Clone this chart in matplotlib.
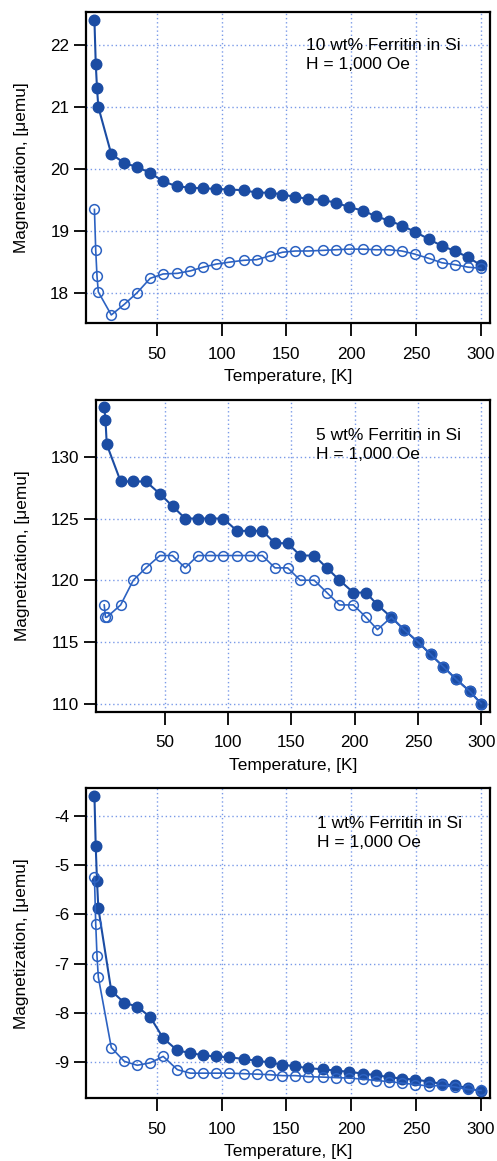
import matplotlib
matplotlib.use("Agg")
import matplotlib.pyplot as plt

plt.rcParams['font.family'] = ['Liberation Sans', 'DejaVu Sans']
plt.rcParams['axes.unicode_minus'] = False

# ---- data ----
T_a = [2, 3, 4, 5, 15, 25, 35, 45, 55, 66, 76, 86, 96, 106, 117, 127, 137, 147, 157,
       167, 178, 188, 198, 209, 219, 229, 239, 249, 260, 270, 280, 290, 300]
m10_fc = [22.40, 21.70, 21.30, 21.00, 20.24, 20.10, 20.03, 19.94, 19.80, 19.72, 19.70,
          19.69, 19.68, 19.67, 19.66, 19.62, 19.62, 19.59, 19.55, 19.52, 19.50, 19.46,
          19.39, 19.33, 19.24, 19.17, 19.09, 18.99, 18.87, 18.76, 18.68, 18.58, 18.45]
m10_zfc = [19.35, 18.69, 18.27, 18.02, 17.65, 17.82, 18.01, 18.24, 18.31, 18.32, 18.36,
           18.42, 18.47, 18.50, 18.53, 18.54, 18.60, 18.66, 18.68, 18.68, 18.69, 18.70,
           18.71, 18.71, 18.70, 18.70, 18.68, 18.63, 18.56, 18.49, 18.46, 18.42, 18.40]

T_b = [2, 3, 4, 15, 25, 35, 46, 56, 66, 76, 86, 96, 107, 117, 127, 137, 147, 157,
       168, 178, 188, 199, 209, 218, 229, 239, 250, 260, 270, 280, 291, 300]
m5_fc = [134, 133, 131, 128, 128, 128, 127, 126, 125, 125, 125, 125, 124, 124, 124,
         123, 123, 122, 122, 121, 120, 119, 119, 118, 117, 116, 115, 114, 113, 112, 111, 110]
m5_zfc = [118, 117, 117, 118, 120, 121, 122, 122, 121, 122, 122, 122, 122, 122, 122,
          121, 121, 120, 120, 119, 118, 118, 117, 116, 117, 116, 115, 114, 113, 112, 111, 110]

T_c = T_a
m1_fc = [-3.59, -4.62, -5.33, -5.87, -7.55, -7.79, -7.87, -8.08, -8.51, -8.76, -8.81,
         -8.86, -8.88, -8.90, -8.93, -8.97, -9.00, -9.05, -9.08, -9.12, -9.14, -9.17,
         -9.19, -9.23, -9.26, -9.30, -9.33, -9.35, -9.39, -9.44, -9.47, -9.52, -9.59]
m1_zfc = [-5.23, -6.19, -6.85, -7.27, -8.70, -8.98, -9.06, -9.01, -8.88, -9.15, -9.22,
          -9.22, -9.22, -9.22, -9.23, -9.24, -9.25, -9.27, -9.27, -9.29, -9.30, -9.31,
          -9.32, -9.34, -9.37, -9.39, -9.42, -9.45, -9.48, -9.47, -9.50, -9.55, -9.57]

labels = ["10 wt% Ferritin in Si\nH = 1,000 Oe",
          "5 wt% Ferritin in Si\nH = 1,000 Oe",
          "1 wt% Ferritin in Si\nH = 1,000 Oe"]
xticks = [50, 100, 150, 200, 250, 300]
yticks_a = [18, 19, 20, 21, 22]
yticks_b = [110, 115, 120, 125, 130]
yticks_c = [-9, -8, -7, -6, -5, -4]

W, H = 497, 1161
fig = plt.figure(figsize=(W / 100, H / 100), dpi=100)

def rect(l, t, r, b):
    return [l / W, 1 - b / H, (r - l) / W, (b - t) / H]

panels = [
    (rect(86, 12, 490, 323), T_a, m10_fc, m10_zfc, yticks_a, (17.52, 22.53), labels[0], (306, 45)),
    (rect(96, 400, 490, 711.7), T_b, m5_fc, m5_zfc, yticks_b, (109.35, 134.6), labels[1], (316, 435)),
    (rect(86, 788.3, 490, 1098.3), T_c, m1_fc, m1_zfc, yticks_c, (-9.73, -3.44), labels[2], (317, 823)),
]

dark = '#1b4ca3'
light = '#2c62c2'
gridc = '#7a9ae8'

for r, T, fc, zfc, yt, ylim, lab, tpos in panels:
    ax = fig.add_axes(r)
    ax.plot(T, fc, '-', color=dark, lw=1.5, marker='o', ms=7.6,
            mfc=dark, mec=dark, zorder=3)
    ax.plot(T, zfc, '-', color=light, lw=1.2, marker='o', ms=7.0,
            mfc='none', mec=light, mew=1.1, zorder=4)
    ax.set_xlim(-4.5, 307)
    ax.set_ylim(*ylim)
    ax.set_xticks(xticks)
    ax.set_yticks(yt)
    ax.grid(True, color=gridc, linestyle=(0, (1, 2)), linewidth=1.0)
    ax.set_axisbelow(True)
    for s in ax.spines.values():
        s.set_linewidth(1.6)
        s.set_color('black')
    ax.tick_params(axis='both', direction='out', length=9, width=1.3,
                   labelsize=12.3, top=False, right=False)
    ax.tick_params(axis='x', pad=8)
    ax.tick_params(axis='y', pad=3)
    ax.set_xlabel('Temperature, [K]', fontsize=12.5)
    ax.set_ylabel('Magnetization, [μemu]', fontsize=12.4)
    pos = ax.get_position()
    lx_pix = pos.x0 * W
    ax.yaxis.set_label_coords((22 - lx_pix) / (pos.width * W), 0.5)
    ax.xaxis.set_label_coords(0.5, -0.148)
    ax.xaxis.label.set_va('top')
    ax.yaxis.label.set_va('center')
    x0 = (tpos[0] - pos.x0 * W) / (pos.width * W)
    y0 = 1 - (tpos[1] - (1 - pos.y1) * H) / (pos.height * H)
    ax.text(x0, y0 + 0.022, lab, transform=ax.transAxes, fontsize=12.5,
            va='top', ha='left', linespacing=1.28)

fig.savefig('out.png', dpi=100, facecolor='white')
